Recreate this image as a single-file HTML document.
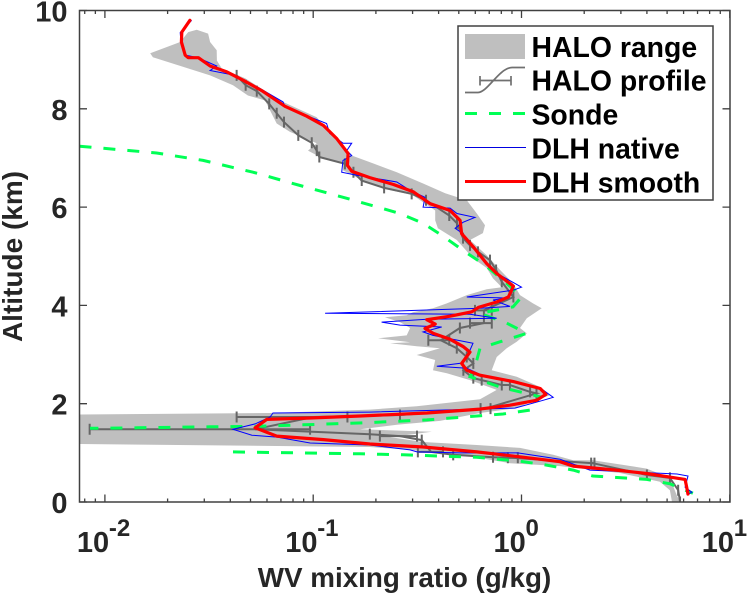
<!DOCTYPE html>
<html>
<head>
<meta charset="utf-8">
<style>
html,body{margin:0;padding:0;background:#fff;width:751px;height:594px;overflow:hidden}
svg{display:block;font-family:"Liberation Sans",Arial,sans-serif;font-weight:bold}
</style>
</head>
<body>
<svg id="chart" xmlns="http://www.w3.org/2000/svg" width="751" height="594" viewBox="0 0 751 594">
<defs><clipPath id="plot-clip"><rect x="79.5" y="10.5" width="650.5" height="491.5"/></clipPath></defs>
<g id="marks" clip-path="url(#plot-clip)"></g>
<g id="axes"></g>
<text x="404.5" y="587" font-size="27.8" fill="#262626" text-anchor="middle">WV mixing ratio (g/kg)</text>
<text transform="translate(22,256.5) rotate(-90)" font-size="28" fill="#262626" text-anchor="middle">Altitude (km)</text>
<g>
<rect x="458" y="26" width="255" height="174" fill="#fff" stroke="#404040" stroke-width="1.5"/>
<g>
<rect x="465" y="34" width="60" height="25" fill="#bfbfbf"/>
<text x="531.5" y="57" font-size="28.4" fill="#000">HALO range</text>
</g>
<g>
<path d="M465 92.5H478C488 92 499 68 512 67.5H525M480 80.5H511M480 76V85.500M511 76V85.500" fill="none" stroke="#707070" stroke-width="1.700"/>
<text x="531.5" y="90.500" font-size="28.4" fill="#000">HALO profile</text>
</g>
<g>
<line x1="465" y1="113.500" x2="526" y2="113.500" stroke="#00ff55" stroke-width="3" stroke-dasharray="12 12"/>
<text x="531.5" y="124.500" font-size="28.4" fill="#000">Sonde</text>
</g>
<g>
<line x1="465" y1="147.500" x2="526" y2="147.500" stroke="#0000e0" stroke-width="1"/>
<text x="531.5" y="158.500" font-size="28.4" fill="#000">DLH native</text>
</g>
<g>
<line x1="465" y1="181.500" x2="526" y2="181.500" stroke="#ff0000" stroke-width="3"/>
<text x="531.5" y="192.500" font-size="28.4" fill="#000">DLH smooth</text>
</g>
</g>
</svg>
<script>
// Axis tick labels
const xDecades = [-2, -1, 0, 1];
const yTicks = [0, 2, 4, 6, 8, 10];

// HALO range envelope: left edge (top to bottom), right edge (top to bottom)
const rangeLeftAlt = [9.56,9.36,9.13,9.05,8.68,8.48,8.27,8.17,7.7,7.53,7.3,7.15,6.99,6.89,6.75,6.54,6.38,6.24,5.93,5.73,5.57,5.33,4.96,4.76,4.55,4.37,4.33,4.21,4.04,3.94,3.86,3.8,3.76,3.66,3.54,3.39,3.33,3.25,3.23,3.17,3.13,2.99,2.89,2.68,2.62,2.48,2.28,2.09,1.95,1.88,1.81,1.78,1.18,1.12,1.06,0.96,0.79,0.73,0.59,0.41,0.24,0];
const rangeLeftVal = [0.0251,0.023,0.0165,0.017,0.032,0.0412,0.0486,0.0587,0.0668,0.0774,0.104,0.0944,0.111,0.139,0.139,0.173,0.216,0.301,0.385,0.385,0.397,0.489,0.585,0.681,0.73,0.804,0.681,0.546,0.438,0.376,0.301,0.281,0.221,0.261,0.292,0.281,0.205,0.292,0.234,0.314,0.406,0.314,0.385,0.376,0.438,0.566,0.76,0.632,0.314,0.187,0.0621,0.00759,0.00759,0.187,0.292,0.507,0.881,1.53,2.97,4.62,5.16,5.28];
const rangeRightAlt = [9.61,9.53,9.36,9.19,8.98,8.82,8.62,8.41,8.14,7.83,7.5,7.22,7.05,6.89,6.71,6.48,6.28,6.14,5.87,5.63,5.47,5.33,5.02,4.72,4.45,4.21,4.04,3.94,3.74,3.54,3.43,3.26,3.13,2.95,2.68,2.55,2.34,2.17,2.03,1.91,1.81,1.65,1.57,1.48,1.43,1.32,1.22,1.16,1.1,0.96,0.85,0.85,0.68,0.49,0.14,0];
const rangeRightVal = [0.0276,0.0313,0.032,0.0344,0.0345,0.0364,0.0471,0.0566,0.0716,0.104,0.12,0.14,0.153,0.194,0.252,0.337,0.43,0.546,0.61,0.668,0.653,0.566,0.681,0.789,0.91,0.984,1.135,1.25,1.06,0.984,1.06,0.948,0.849,0.76,0.719,0.948,1.23,1.37,1.1,0.948,0.632,0.406,0.252,0.168,0.371,0.234,0.337,0.61,0.984,1.42,1.77,2.2,3.99,5.16,5.56,5.77];

// HALO profile with horizontal error bars
const haloAlt = [8.68,8.48,8.36,8.1,7.91,7.73,7.46,7.31,7.15,7.02,6.88,6.71,6.54,6.39,6.27,6.14,5.83,5.67,5.37,5.22,5.09,4.92,4.72,4.48,4.17,3.9,3.64,3.54,3.29,3.13,2.95,2.82,2.68,2.52,2.48,2.38,2.38,2.24,2.21,1.9,1.77,1.73,1.48,1.38,1.34,1.26,1.02,0.96,0.91,0.9,0.79,0.55,0.49,0.24,0];
const haloVal = [0.0429,0.0474,0.0536,0.0615,0.0668,0.0724,0.0848,0.0984,0.104,0.107,0.142,0.156,0.171,0.219,0.297,0.348,0.45,0.49,0.524,0.566,0.618,0.706,0.755,0.804,0.914,0.66,0.66,0.506,0.41,0.489,0.546,0.587,0.526,0.587,0.644,0.804,0.88,1.1,1.18,0.67,0.261,0.1,0.0525,0.187,0.261,0.332,0.368,0.47,0.73,0.9,2.2,4,5.16,5.65,5.77];
const haloLow = [0.0429,0.0474,0.0536,0.0615,0.0668,0.0724,0.0848,0.0984,0.104,0.107,0.142,0.156,0.171,0.219,0.297,0.348,0.45,0.49,0.524,0.566,0.618,0.706,0.755,0.804,0.914,0.598,0.566,0.506,0.357,0.489,0.546,0.587,0.526,0.587,0.644,0.804,0.88,1.1,1.18,0.636,0.261,0.0429,0.00845,0.187,0.209,0.332,0.318,0.47,0.73,0.86,2.16,4,5.16,5.65,5.77];
const haloHigh = [0.0429,0.0474,0.0536,0.0615,0.0668,0.0724,0.0848,0.0984,0.104,0.107,0.142,0.156,0.171,0.219,0.297,0.348,0.45,0.49,0.524,0.566,0.618,0.706,0.755,0.804,0.914,0.72,0.72,0.506,0.45,0.489,0.546,0.587,0.526,0.587,0.644,0.804,0.88,1.1,1.18,0.71,0.261,0.146,0.0966,0.187,0.315,0.332,0.42,0.47,0.73,0.96,2.24,4,5.16,5.65,5.77];

// Sonde profile, two sections
const sondeUpperAlt = [7.24,7.15,7.1,6.95,6.71,6.44,6.18,5.87,5.67,5.41,5.12,4.82,4.45,4.17,3.97,3.84,3.64,3.43,3.26,3.13,2.75,2.55,2.34,2.14,1.87,1.79,1.67,1.61,1.57,1.54,1.53,1.51,1.5];
const sondeUpperVal = [0.00755,0.0132,0.0177,0.0296,0.0514,0.0865,0.145,0.261,0.337,0.42,0.524,0.668,0.849,1.0,0.91,0.632,0.849,1.06,0.788,0.632,0.598,0.566,0.788,1.23,1.1,0.815,0.351,0.173,0.0893,0.0537,0.032,0.0143,0.00848];
const sondeLowerAlt = [1.02,0.98,0.96,0.91,0.83,0.75,0.65,0.53,0.46,0.37,0.28,0.18];
const sondeLowerVal = [0.0412,0.168,0.27,0.61,0.984,1.32,1.77,2.2,3.99,5.16,5.77,6.65];

// DLH native
const nativeAlt = [9.8,9.55,9.35,9.09,9.04,8.87,8.78,8.7,8.6,8.41,8.14,8.05,7.89,7.7,7.5,7.3,7.3,7.15,7.05,6.95,6.71,6.65,6.51,6.34,6.2,6.0,5.98,5.87,5.79,5.69,5.57,5.47,5.2,4.86,4.65,4.47,4.37,4.31,4.17,4.15,4.11,3.98,3.94,3.84,3.82,3.74,3.72,3.66,3.6,3.56,3.46,3.39,3.23,3.09,2.83,2.76,2.72,2.58,2.44,2.32,2.13,2.07,1.91,1.83,1.81,1.73,1.59,1.48,1.36,1.32,1.2,1.16,1.06,1.02,1.0,1.0,0.87,0.65,0.57,0.53,0.3,0.2,0.14];
const nativeVal = [0.0261,0.023,0.0232,0.0245,0.028,0.0344,0.032,0.0399,0.046,0.0556,0.0716,0.0732,0.0893,0.116,0.12,0.139,0.153,0.145,0.153,0.139,0.137,0.162,0.252,0.292,0.344,0.337,0.454,0.49,0.598,0.524,0.48,0.518,0.585,0.683,0.763,0.91,1.0,0.91,0.546,0.852,0.73,0.88,0.632,0.114,0.566,0.76,0.351,0.213,0.261,0.414,0.337,0.376,0.585,0.566,0.526,0.392,0.547,0.645,0.93,1.23,1.42,1.27,0.93,0.187,0.0641,0.0621,0.0526,0.0412,0.0508,0.067,0.0966,0.187,0.292,0.315,0.507,0.96,1.53,2.13,5.58,6.3,6.1,6.58,6.22];

// DLH smooth
const smoothAlt = [9.8,9.56,9.36,9.09,9.04,9.04,8.87,8.75,8.58,8.37,8.05,7.85,7.66,7.39,7.09,6.85,6.73,6.6,6.46,6.31,6.07,5.93,5.73,5.46,5.19,4.85,4.65,4.39,4.17,4.07,3.96,3.87,3.78,3.71,3.62,3.53,3.43,3.31,3.16,3.05,2.82,2.68,2.58,2.45,2.31,2.19,2.07,1.97,1.89,1.81,1.75,1.71,1.68,1.51,1.34,1.27,1.18,1.12,1.02,0.92,0.82,0.73,0.64,0.58,0.46,0.31,0.16];
const smoothVal = [0.0256,0.0234,0.0233,0.0243,0.0251,0.0281,0.032,0.0385,0.0462,0.0566,0.0732,0.0931,0.112,0.13,0.147,0.146,0.153,0.187,0.243,0.303,0.364,0.454,0.507,0.516,0.587,0.681,0.76,0.914,0.865,0.76,0.62,0.577,0.454,0.351,0.385,0.344,0.377,0.454,0.526,0.566,0.516,0.546,0.632,0.914,1.23,1.31,1.18,0.88,0.632,0.351,0.168,0.0966,0.0598,0.0526,0.0668,0.112,0.187,0.338,0.61,0.983,1.53,1.77,2.97,3.99,6.1,6.2,6.3];

const SVGNS = 'http://www.w3.org/2000/svg';
const marks = document.getElementById('marks');
const axes = document.getElementById('axes');

function xScale(v) { return 521.5 + 208.3 * Math.log10(v); }
function yScale(km) { return 502 - 49.15 * km; }
function make(tag, parent, props) {
  const el = document.createElementNS(SVGNS, tag);
  for (const k in props) el.setAttribute(k, props[k]);
  parent.appendChild(el);
  return el;
}
function points(vals, alts) {
  return vals.map((v, i) => xScale(v).toFixed(1) + ',' + yScale(alts[i]).toFixed(1)).join(' ');
}

// HALO range
const rangePoly = make('polygon', marks, {
  points: points(rangeRightVal, rangeRightAlt) + ' ' +
    points(rangeLeftVal.slice().reverse(), rangeLeftAlt.slice().reverse()),
  fill: '#bfbfbf'
});



// HALO profile
const haloLine = make('polyline', marks, {
  points: points(haloVal, haloAlt), fill: 'none', stroke: '#666', 'stroke-width': 2
});


haloVal.forEach((v, i) => {
  const y = yScale(haloAlt[i]);
  const x1 = xScale(haloLow[i]);
  const x2 = xScale(haloHigh[i]);
  const bar = make('path', marks, {
    d: 'M' + x1 + ' ' + y + 'H' + x2 + 'M' + x1 + ' ' + (y - 5.5) + 'V' + (y + 5.5) +
       'M' + x2 + ' ' + (y - 5.5) + 'V' + (y + 5.5),
    fill: 'none', stroke: '#666', 'stroke-width': 2
  });
  
  
});

// Sonde
const sondeUpper = make('polyline', marks, {
  points: points(sondeUpperVal, sondeUpperAlt), fill: 'none', stroke: '#00ff55',
  'stroke-width': 3, 'stroke-dasharray': '12 12'
});


const sondeLower = make('polyline', marks, {
  points: points(sondeLowerVal, sondeLowerAlt), fill: 'none', stroke: '#00ff55',
  'stroke-width': 3, 'stroke-dasharray': '12 12'
});



// DLH native
const nativeLine = make('polyline', marks, {
  points: points(nativeVal, nativeAlt), fill: 'none', stroke: '#0000ff', 'stroke-width': 1
});



// DLH smooth
const smoothLine = make('polyline', marks, {
  points: points(smoothVal, smoothAlt), fill: 'none', stroke: '#ff0000',
  'stroke-width': 3.2, 'stroke-linejoin': 'round', 'stroke-linecap': 'round'
});



// Axes frame
const frame = make('rect', axes, {
  x: 79.5, y: 10.5, width: 650.5, height: 491.5, fill: 'none', stroke: '#404040', 'stroke-width': 1.5
});



// X ticks
const xMin = 79.5, xMax = 730.5;
xDecades.forEach((d) => {
  for (let m = 1; m < 10; m++) {
    const x = xScale(m * Math.pow(10, d));
    if (x < xMin || x > xMax) continue;
    const len = m === 1 ? 7.5 : 3.5;
    const tick = make('path', axes, {
      d: 'M' + x + ' 502v-' + len + 'M' + x + ' 10.5v' + len,
      stroke: '#404040', 'stroke-width': 1.3, fill: 'none'
    });
    
    
  }
  [2, 3, 4, 5, 6, 7, 8, 9].forEach((m) => {
    const x = xScale(m * Math.pow(10, d - 1));
    if (d !== -2 || x < xMin) return;
    const tick = make('path', axes, {
      d: 'M' + x + ' 502v-3.5M' + x + ' 10.5v3.5',
      stroke: '#404040', 'stroke-width': 1.3, fill: 'none'
    });
    
    
  });
  const x0 = xScale(Math.pow(10, d));
  const label = make('text', axes, {
    x: x0 - 28, y: 552, 'font-size': 29, fill: '#262626'
  });
  
  
  label.textContent = '10';
  const exp = make('text', axes, {
    x: x0 + 4, y: 536, 'font-size': 24, fill: '#262626'
  });
  
  
  exp.textContent = String(d);
});

// Y ticks
yTicks.forEach((km) => {
  const y = yScale(km);
  const tick = make('path', axes, {
    d: 'M79.5 ' + y + 'h7.5M730 ' + y + 'h-7.5',
    stroke: '#404040', 'stroke-width': 1.3, fill: 'none'
  });
  
  
  const label = make('text', axes, {
    x: 67.5, y: y + 11, 'font-size': 29, fill: '#262626', 'text-anchor': 'end'
  });
  
  
  label.textContent = String(km);
});
</script>
</body>
</html>
